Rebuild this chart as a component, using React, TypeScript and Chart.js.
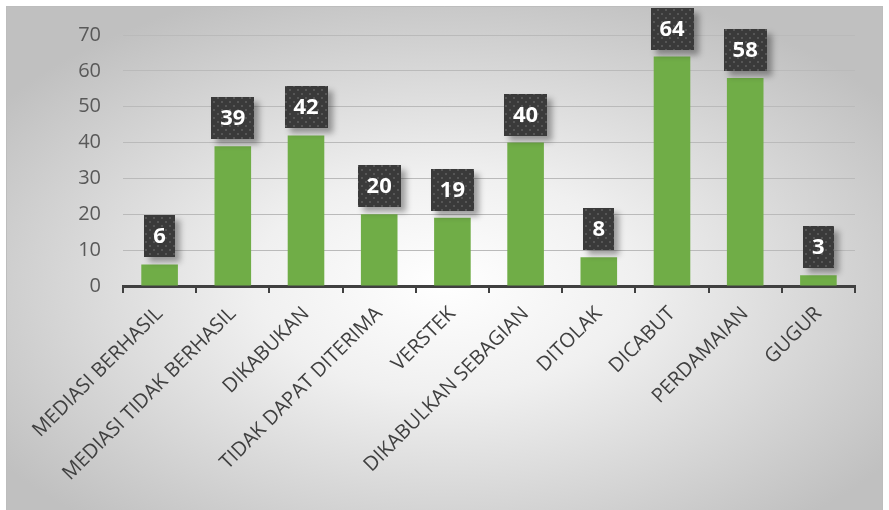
import React, { useEffect, useRef } from 'react';
import { Chart, registerables } from 'chart.js';

Chart.register(...registerables);

const categories = [
  'MEDIASI BERHASIL',
  'MEDIASI TIDAK BERHASIL',
  'DIKABUKAN',
  'TIDAK DAPAT DITERIMA',
  'VERSTEK',
  'DIKABULKAN SEBAGIAN',
  'DITOLAK',
  'DICABUT',
  'PERDAMAIAN',
  'GUGUR',
];
const values = [6, 39, 42, 20, 19, 40, 8, 64, 58, 3];
const yMin = 0;
const yMax = 70;
const yStep = 10;

const FONT = '"Open Sans", "DejaVu Sans", sans-serif';

function makePattern(ctx: CanvasRenderingContext2D) {
  const c = document.createElement('canvas');
  c.width = 8;
  c.height = 8;
  const p = c.getContext('2d')!;
  p.fillStyle = '#3a3a3a';
  p.fillRect(0, 0, 8, 8);
  p.fillStyle = '#565656';
  p.fillRect(1, 1, 2, 2);
  p.fillRect(5, 5, 2, 2);
  return ctx.createPattern(c, 'repeat');
}

const backgroundPlugin = {
  id: 'bgPlugin',
  beforeDraw(chart: any) {
    const ctx = chart.ctx as CanvasRenderingContext2D;
    const W = chart.width;
    const H = chart.height;
    ctx.save();
    ctx.fillStyle = '#ffffff';
    ctx.fillRect(0, 0, W, H);
    const x0 = 6, y0 = 6, w = 877, h = 504;
    ctx.beginPath();
    ctx.rect(x0, y0, w, h);
    ctx.clip();
    const cx = x0 + w / 2;
    const cy = y0 + h * 0.55;
    ctx.translate(cx, cy);
    ctx.scale(1, h / w);
    const g = ctx.createRadialGradient(0, 0, 0, 0, 0, w * 0.62);
    g.addColorStop(0, '#ffffff');
    g.addColorStop(0.35, '#f0f0f0');
    g.addColorStop(1, '#c0c0c0');
    ctx.fillStyle = g;
    ctx.fillRect(-w, -w, 2 * w, 2 * w);
    ctx.restore();
    ctx.save();
    ctx.strokeStyle = '#bdbdbd';
    ctx.lineWidth = 1;
    ctx.beginPath();
    ctx.moveTo(6.5, H);
    ctx.lineTo(6.5, 6.5);
    ctx.lineTo(882.5, 6.5);
    ctx.lineTo(882.5, H);
    ctx.stroke();
    ctx.restore();
  },
};

const labelPlugin = {
  id: 'boxLabels',
  afterDatasetsDraw(chart: any) {
    const ctx = chart.ctx as CanvasRenderingContext2D;
    const meta = chart.getDatasetMeta(0);
    const pattern = makePattern(ctx);
    ctx.save();
    ctx.font = `bold 22px ${FONT}`;
    meta.data.forEach((bar: any, i: number) => {
      const text = String(chart.data.datasets[0].data[i]);
      const tw = ctx.measureText(text).width;
      const bw = Math.round(tw + 18);
      const bh = 42;
      const bx = Math.round(bar.x - bw / 2);
      const by = Math.round(bar.y - 7 - bh);
      ctx.save();
      ctx.shadowColor = 'rgba(0,0,0,0.35)';
      ctx.shadowBlur = 6;
      ctx.shadowOffsetX = 5;
      ctx.shadowOffsetY = 5;
      ctx.fillStyle = '#3a3a3a';
      ctx.fillRect(bx, by, bw, bh);
      ctx.restore();
      ctx.fillStyle = pattern || '#3a3a3a';
      ctx.fillRect(bx, by, bw, bh);
      ctx.fillStyle = '#ffffff';
      ctx.textAlign = 'center';
      ctx.textBaseline = 'middle';
      ctx.fillText(text, bar.x, by + bh / 2 + 1);
    });
    ctx.restore();
  },
};

export default function App() {
  const ref = useRef<HTMLCanvasElement | null>(null);
  useEffect(() => {
    if (!ref.current) return;
    const chart = new Chart(ref.current, {
      type: 'bar',
      data: {
        labels: categories,
        datasets: [
          {
            data: values,
            backgroundColor: '#70AD47',
            borderWidth: 0,
            barPercentage: 0.5,
            categoryPercentage: 1,
          },
        ],
      },
      options: {
        responsive: false,
        animation: false,
        layout: { padding: { left: 0, top: 35, right: 34, bottom: 0 } },
        plugins: {
          legend: { display: false },
          tooltip: { enabled: false },
        },
        scales: {
          x: {
            offset: true,
            grid: {
              offset: true,
              drawOnChartArea: false,
              drawTicks: true,
              tickLength: 7,
              color: '#404040',
              lineWidth: 2,
            },
            border: { display: true, color: '#404040', width: 3 },
            ticks: {
              autoSkip: false,
              minRotation: 45,
              maxRotation: 45,
              padding: 9,
              color: '#404040',
              font: { family: FONT, size: 20 },
            },
            afterFit(scale: any) {
              scale.height = 224;
            },
          },
          y: {
            min: yMin,
            max: yMax,
            ticks: {
              stepSize: yStep,
              padding: 22,
              color: '#595959',
              font: { family: FONT, size: 20 },
            },
            grid: { color: '#bababa', lineWidth: 1, drawTicks: false },
            border: { display: false },
            afterFit(scale: any) {
              scale.width = 123;
            },
          },
        },
      },
      plugins: [backgroundPlugin, labelPlugin],
    });
    return () => chart.destroy();
  }, []);
  return (
    <canvas
      ref={ref}
      width={889}
      height={510}
      style={{ position: 'absolute', left: 0, top: 0, width: 889, height: 510 }}
    />
  );
}
